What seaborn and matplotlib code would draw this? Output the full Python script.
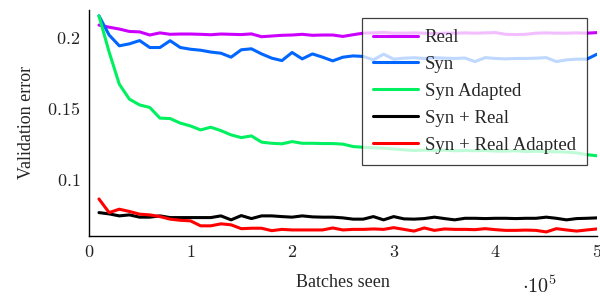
import numpy as np
import pandas as pd
import matplotlib
matplotlib.use('Agg')
import matplotlib.pyplot as plt
import seaborn as sns

# ── Data (validation error every 1e4 batches) ─────────────────
batches = np.arange(1, 51) * 1e4

real = [0.2090, 0.2075, 0.2062, 0.2045, 0.2042, 0.2020, 0.2035, 0.2025, 0.2027, 0.2027,
        0.2025, 0.2022, 0.2027, 0.2025, 0.2023, 0.2028, 0.2008, 0.2013, 0.2018, 0.2020,
        0.2025, 0.2018, 0.2020, 0.2020, 0.2010, 0.2022, 0.2033, 0.2035, 0.2038, 0.2033,
        0.2033, 0.2035, 0.2033, 0.2030, 0.2033, 0.2033, 0.2035, 0.2033, 0.2035, 0.2037,
        0.2025, 0.2023, 0.2025, 0.2033, 0.2035, 0.2033, 0.2033, 0.2035, 0.2033, 0.2037]

syn = [0.2155, 0.2020, 0.1944, 0.1958, 0.1981, 0.1932, 0.1932, 0.1980, 0.1932, 0.1920,
       0.1913, 0.1900, 0.1892, 0.1864, 0.1916, 0.1923, 0.1887, 0.1857, 0.1840, 0.1897,
       0.1852, 0.1887, 0.1864, 0.1838, 0.1864, 0.1873, 0.1869, 0.1845, 0.1885, 0.1850,
       0.1857, 0.1860, 0.1855, 0.1860, 0.1857, 0.1855, 0.1858, 0.1833, 0.1861, 0.1855,
       0.1852, 0.1855, 0.1855, 0.1857, 0.1861, 0.1833, 0.1845, 0.1850, 0.1850, 0.1885]

syn_adapted = [0.2155, 0.1900, 0.1674, 0.1568, 0.1528, 0.1510, 0.1435, 0.1432, 0.1400, 0.1380,
               0.1352, 0.1371, 0.1347, 0.1317, 0.1298, 0.1310, 0.1266, 0.1258, 0.1254, 0.1270,
               0.1258, 0.1258, 0.1256, 0.1256, 0.1252, 0.1235, 0.1230, 0.1226, 0.1223, 0.1218,
               0.1212, 0.1207, 0.1210, 0.1208, 0.1210, 0.1205, 0.1207, 0.1205, 0.1207, 0.1203,
               0.1203, 0.1205, 0.1200, 0.1202, 0.1200, 0.1198, 0.1196, 0.1190, 0.1178, 0.1170]

syn_real = [0.0770, 0.0761, 0.0747, 0.0754, 0.0738, 0.0738, 0.0747, 0.0735, 0.0735, 0.0735,
            0.0735, 0.0735, 0.0747, 0.0719, 0.0749, 0.0728, 0.0747, 0.0747, 0.0742, 0.0738,
            0.0747, 0.0740, 0.0738, 0.0738, 0.0733, 0.0724, 0.0724, 0.0742, 0.0719, 0.0742,
            0.0726, 0.0724, 0.0728, 0.0738, 0.0728, 0.0719, 0.0730, 0.0730, 0.0728, 0.0730,
            0.0730, 0.0728, 0.0730, 0.0730, 0.0738, 0.0730, 0.0719, 0.0728, 0.0730, 0.0733]

syn_real_adapted = [0.0866, 0.0770, 0.0794, 0.0778, 0.0759, 0.0754, 0.0742, 0.0724, 0.0716, 0.0712,
                    0.0677, 0.0677, 0.0691, 0.0684, 0.0657, 0.0660, 0.0660, 0.0643, 0.0652, 0.0648,
                    0.0648, 0.0648, 0.0648, 0.0662, 0.0648, 0.0652, 0.0652, 0.0655, 0.0652, 0.0664,
                    0.0652, 0.0640, 0.0662, 0.0645, 0.0655, 0.0652, 0.0652, 0.0650, 0.0657, 0.0650,
                    0.0645, 0.0645, 0.0647, 0.0645, 0.0634, 0.0657, 0.0648, 0.0640, 0.0648, 0.0655]

labels = ['Real', 'Syn', 'Syn Adapted', 'Syn + Real', 'Syn + Real Adapted']
colors = ['#CC00FF', '#0066FF', '#00F060', '#000000', '#FF0000']

series = [real, syn, syn_adapted, syn_real, syn_real_adapted]
df = pd.concat([pd.DataFrame({'Batches': batches, 'Error': vals, 'Run': name})
                for name, vals in zip(labels, series)], ignore_index=True)

# ── Plot ───────────────────────────────────────────────────
sns.set_style('white')
plt.rcParams['font.family'] = ['Liberation Serif', 'DejaVu Serif']
plt.rcParams['mathtext.fontset'] = 'cm'

fig = plt.figure(figsize=(6, 2.99), dpi=100)
ax = fig.add_axes([0.148, 0.211, 0.847, 0.756])

sns.lineplot(data=df, x='Batches', y='Error', hue='Run', hue_order=labels,
             palette=dict(zip(labels, colors)), linewidth=2.2, ax=ax)

ax.set_xlim(0, 5e5)
ax.set_ylim(0.0606, 0.2197)
ax.set_xticks([0, 1e5, 2e5, 3e5, 4e5, 5e5])
ax.set_yticks([0.1, 0.15, 0.2])
ax.xaxis.set_major_formatter(plt.FuncFormatter(lambda v, p: f'${v / 1e5:g}$'))
ax.yaxis.set_major_formatter(plt.FuncFormatter(lambda v, p: f'${v:g}$'))
ax.tick_params(direction='in', length=7, width=0.8, color='#888888',
               labelsize=13, labelcolor='#222222', pad=6)

for side in ['top', 'right']:
    ax.spines[side].set_visible(False)
for side in ['left', 'bottom']:
    ax.spines[side].set_color('black')
    ax.spines[side].set_linewidth(1.0)

ax.set_xlabel('Batches seen', fontsize=13, labelpad=9)
ax.set_ylabel('Validation error', fontsize=13, labelpad=9)
ax.text(0.852, -0.225, r'$\cdot 10^5$', transform=ax.transAxes, fontsize=14.5,
        ha='left', va='center', color='#222222')

leg = ax.legend(loc='upper right', bbox_to_anchor=(0.98, 0.965), borderaxespad=0,
                fontsize=13.5, handlelength=2.4, handletextpad=0.35, labelspacing=0.52,
                borderpad=0.6, fancybox=False, framealpha=0.75, edgecolor='black')
leg.get_frame().set_linewidth(0.9)
for line in leg.get_lines():
    line.set_linewidth(2.2)

plt.savefig('out.png', dpi=100)
plt.close()
